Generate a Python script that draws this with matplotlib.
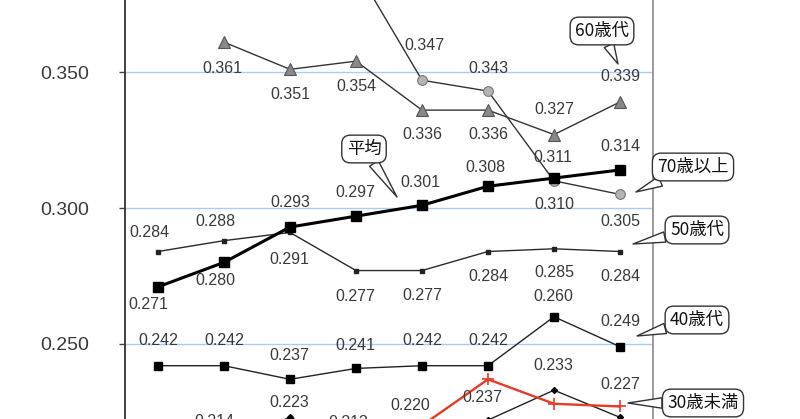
import numpy as np
import matplotlib
matplotlib.use("Agg")
import matplotlib.pyplot as plt

# ---------------- data ----------------
categories = ["1", "2", "3", "4", "5", "6", "7", "8"]
avg     = [0.271, 0.280, 0.293, 0.297, 0.301, 0.308, 0.311, 0.314]
age_u30 = [0.205, 0.208, 0.211, 0.214, 0.220, 0.237, 0.228, 0.227]
age_30s = [0.210, 0.214, 0.223, 0.213, 0.216, 0.222, 0.233, 0.223]
age_40s = [0.242, 0.242, 0.237, 0.241, 0.242, 0.242, 0.260, 0.249]
age_50s = [0.284, 0.288, 0.291, 0.277, 0.277, 0.284, 0.285, 0.284]
age_60s = [np.nan, 0.361, 0.351, 0.354, 0.336, 0.336, 0.327, 0.339]
age_70p = [0.398, 0.392, 0.395, 0.388, 0.347, 0.343, 0.310, 0.305]
yticks = [0.250, 0.300, 0.350]

# ---------------- style ----------------
NUMFONT = ["Liberation Sans", "Noto Sans CJK JP", "DejaVu Sans"]
JPFONT = ["Noto Sans CJK JP", "DejaVu Sans"]
plt.rcParams["font.family"] = NUMFONT
TXT = "#3a3a3a"

fig = plt.figure(figsize=(8.0, 4.19), dpi=100)
ax = fig.add_axes([125 / 800, 0, 528 / 800, 1])
x = np.arange(len(categories))
ax.set_xlim(-0.5, len(categories) - 0.5)
ax.set_ylim(0.2224, 0.3765)

ax.set_yticks(yticks)
ax.set_yticklabels([f"{v:.3f}" for v in yticks], fontsize=14, color=TXT)
ax.tick_params(axis="y", direction="out", length=4, width=1, color="#444", pad=22)
ax.set_xticks(x)
ax.set_xticklabels(categories)
ax.tick_params(axis="x", bottom=False, labelbottom=False)
ax.grid(axis="y", color="#a9cdf2", lw=1)
ax.set_axisbelow(True)
for s in ("top", "bottom"):
    ax.spines[s].set_visible(False)
ax.spines["left"].set_color("#333")
ax.spines["left"].set_linewidth(1.3)
ax.spines["right"].set_color("#8a8a8a")
ax.spines["right"].set_linewidth(1.2)

# series: (values, style, label offsets in pixels (dx, dy up))
series = [
    (age_70p, dict(color="#333", lw=1, marker="o", ms=7, mfc="#b4b4b4", mec="#777", mew=0.8),
     [None, None, None, None, (2, 35), (0, 23), (0, -24), (0, -27)]),
    (age_60s, dict(color="#333", lw=1, marker="^", ms=9, mfc="#888888", mec="#555", mew=0.8),
     [None, (-2, -26), (0, -25), (0, -25), (0, -24), (0, -24), (0, 25), (0, 25)]),
    (age_50s, dict(color="#2a2a2a", lw=1, marker="s", ms=2.2, mfc="#222", mec="#222"),
     [(-9, 19), (-9, 19), (-1, -27), (-1, -26), (0, -25), (0, -25), (0, -24), (0, -25)]),
    (age_40s, dict(color="#222", lw=1, marker="s", ms=6, mfc="black", mec="black"),
     [(0, 25), (0, 25), (-1, 24), (-1, 23), (0, 25), (0, 25), (-1, 20), (0, 25)]),
    (age_30s, dict(color="#222", lw=1, marker="D", ms=3, mfc="black", mec="black"),
     [None, (-10, 20), (-1, 15), (-8, 22), None, None, (-1, 25), None]),
    (age_u30, dict(color="#e83a25", lw=1.7, marker="+", ms=9, mew=1.2),
     [None, None, None, None, (-12, 20), (-6, -18), None, (0, 22)]),
    (avg, dict(color="black", lw=2.2, marker="s", ms=6.5, mfc="black", mec="black"),
     [(-10, -18), (-9, -18), (0, 25), (-1, 24), (-2, 23), (-3, 19), (-1, 21), (0, 23)]),
]

for vals, st, offs in series:
    ax.plot(x, vals, **st)
    for xi, v, off in zip(x, vals, offs):
        if off is None or np.isnan(v):
            continue
        ax.annotate(f"{v:.3f}", (xi, v), xytext=off, textcoords="offset pixels",
                    ha="center", va="center", fontsize=11.5, color=TXT,
                    annotation_clip=False)

# callouts (text centre, tail tip) in figure pixels
callouts = [
    ("60歳代", (602, 388), (618, 355)),
    ("70歳以上", (693, 252), (636, 227)),
    ("50歳代", (697, 189), (633, 175)),
    ("40歳代", (697, 99), (637, 83)),
    ("30歳未満", (703, 16), (628, 16)),
    ("平均", (364, 270), (397, 222)),
]
for txt, c, tip in callouts:
    ax.annotate(txt, xy=tip, xycoords="figure pixels", xytext=c,
                textcoords="figure pixels", ha="center", va="center",
                fontsize=12.5, family=JPFONT, color="#111",
                bbox=dict(boxstyle="round,pad=0.28,rounding_size=0.5",
                          fc="white", ec="#333", lw=1),
                arrowprops=dict(arrowstyle="wedge,tail_width=0.6,shrink_factor=0.5",
                                fc="white", ec="#333", lw=1,
                                shrinkA=0, shrinkB=0),
                annotation_clip=False, zorder=10)

fig.savefig("out.png", dpi=100)
